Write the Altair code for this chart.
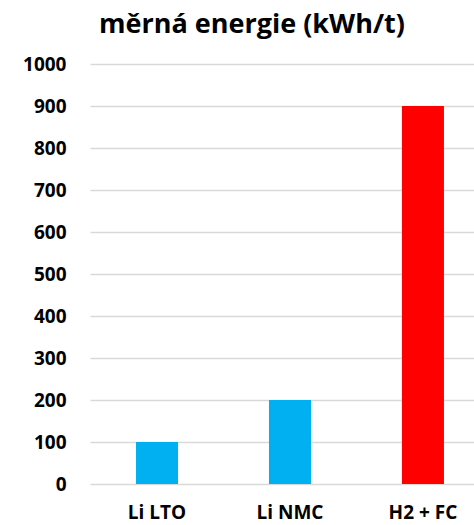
import altair as alt
import pandas as pd

categories = ["Li LTO", "Li NMC", "H2 + FC"]
values = [100, 200, 900]
colors = ["#00B0F0", "#00B0F0", "#FF0000"]

df = pd.DataFrame({"kategorie": categories, "hodnota": values, "barva": colors})

font = "Open Sans"

bars = alt.Chart(df).mark_bar().encode(
    x=alt.X(
        "kategorie:N",
        sort=categories,
        scale=alt.Scale(paddingInner=0.684, paddingOuter=0.286, align=0.605),
        axis=alt.Axis(
            title=None, labelAngle=0, domain=False, ticks=False,
            labelFont=font, labelFontWeight="bold", labelFontSize=19,
            labelColor="#000000", labelPadding=19,
        ),
    ),
    y=alt.Y(
        "hodnota:Q",
        scale=alt.Scale(domain=[0, 1000], nice=False),
        axis=alt.Axis(
            title=None, values=list(range(0, 1001, 100)), format="d",
            domain=False, ticks=False,
            labelFont=font, labelFontWeight="bold", labelFontSize=19,
            labelColor="#000000", labelPadding=24,
            gridColor="#D9D9D9", gridWidth=1.6,
        ),
    ),
    color=alt.Color("barva:N", scale=None, legend=None),
)

chart = bars.properties(
    width=384,
    height=420,
    autosize=alt.AutoSizeParams(type="none"),
    padding={"left": 90, "top": 64, "right": 0, "bottom": 41},
    title=alt.TitleParams(
        "měrná energie (kWh/t)", font=font, fontWeight="bold", fontSize=27,
        color="#000000", anchor="middle", dx=-30, offset=16,
    ),
).configure_view(stroke=None)

chart.save("out.html", embed_options={"renderer": "svg", "actions": False})
